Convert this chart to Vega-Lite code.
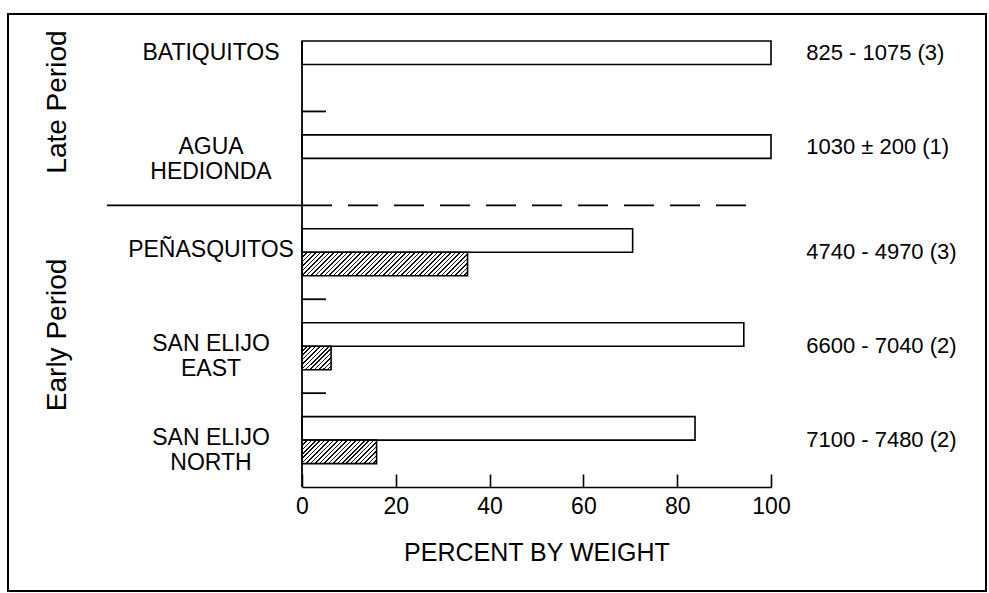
{
  "$schema": "https://vega.github.io/schema/vega-lite/v6.json",
  "width": 978,
  "height": 577,
  "autosize": "none",
  "padding": {"left": 8, "top": 14, "right": 3, "bottom": 2},
  "background": "#ffffff",
  "config": {"view": {"stroke": "#000", "strokeWidth": 2}, "font": "Liberation Sans"},
  "datasets": {
    "bars": [
      {"site": "BATIQUITOS", "type": "open", "value": 100},
      {"site": "AGUA HEDIONDA", "type": "open", "value": 100},
      {"site": "PEÑASQUITOS", "type": "open", "value": 70.5},
      {"site": "PEÑASQUITOS", "type": "hatched", "value": 35.3},
      {"site": "SAN ELIJO EAST", "type": "open", "value": 94.2},
      {"site": "SAN ELIJO EAST", "type": "hatched", "value": 6.2},
      {"site": "SAN ELIJO NORTH", "type": "open", "value": 83.8},
      {"site": "SAN ELIJO NORTH", "type": "hatched", "value": 15.9}
    ],
    "sites": [
      {"site": "BATIQUITOS", "label": "BATIQUITOS", "dates": "825 - 1075 (3)", "period": "Late"},
      {"site": "AGUA HEDIONDA", "label": "AGUA\nHEDIONDA", "dates": "1030 ± 200 (1)", "period": "Late"},
      {"site": "PEÑASQUITOS", "label": "PEÑASQUITOS", "dates": "4740 - 4970 (3)", "period": "Early"},
      {"site": "SAN ELIJO EAST", "label": "SAN ELIJO\nEAST", "dates": "6600 - 7040 (2)", "period": "Early"},
      {"site": "SAN ELIJO NORTH", "label": "SAN ELIJO\nNORTH", "dates": "7100 - 7480 (2)", "period": "Early"}
    ],
    "one": [{}]
  },
  "layer": [
    {
      "data": {"name": "bars"},
      "mark": {"type": "bar", "stroke": "#000", "strokeWidth": 1.6},
      "encoding": {
        "y": {"field": "site", "type": "nominal", "axis": null,
          "scale": {"domain": ["BATIQUITOS", "AGUA HEDIONDA", "PEÑASQUITOS", "SAN ELIJO EAST", "SAN ELIJO NORTH"], "range": [27, 449.6], "paddingInner": 0.5, "paddingOuter": 0}},
        "yOffset": {"field": "type", "type": "nominal", "scale": {"domain": ["open", "hatched"], "paddingInner": 0, "paddingOuter": 0}},
        "x": {"field": "value", "type": "quantitative", "title": "PERCENT BY WEIGHT",
          "scale": {"domain": [0, 100], "range": [294, 763], "nice": false, "zero": false},
          "axis": {"orient": "bottom", "offset": -104, "title": "PERCENT BY WEIGHT", "values": [0, 20, 40, 60, 80, 100], "grid": false,
            "tickSize": -13, "tickWidth": 1.6, "tickColor": "#000", "domainColor": "#000", "domainWidth": 1.6,
            "labelPadding": 21, "labelFont": "Liberation Sans", "labelFontSize": 23, "labelColor": "#000", "labelFlush": false,
            "titleFont": "Liberation Sans", "titleFontSize": 25, "titleFontWeight": "normal", "titleColor": "#000", "titlePadding": 22}},
        "fill": {
          "condition": [
            {"test": "datum.type === 'hatched' && datum.site === 'PEÑASQUITOS'", "value": {"gradient": "linear", "x1": 0, "y1": 0, "x2": 1.1194, "y2": 0.1589, "stops": [
              {"offset":0,"color":"#111"},{"offset":0.00833,"color":"#111"},{"offset":0.00833,"color":"#fff"},{"offset":0.02381,"color":"#fff"},
              {"offset":0.02381,"color":"#111"},{"offset":0.03214,"color":"#111"},{"offset":0.03214,"color":"#fff"},{"offset":0.04762,"color":"#fff"},
              {"offset":0.04762,"color":"#111"},{"offset":0.05595,"color":"#111"},{"offset":0.05595,"color":"#fff"},{"offset":0.07143,"color":"#fff"},
              {"offset":0.07143,"color":"#111"},{"offset":0.07976,"color":"#111"},{"offset":0.07976,"color":"#fff"},{"offset":0.09524,"color":"#fff"},
              {"offset":0.09524,"color":"#111"},{"offset":0.10357,"color":"#111"},{"offset":0.10357,"color":"#fff"},{"offset":0.11905,"color":"#fff"},
              {"offset":0.11905,"color":"#111"},{"offset":0.12738,"color":"#111"},{"offset":0.12738,"color":"#fff"},{"offset":0.14286,"color":"#fff"},
              {"offset":0.14286,"color":"#111"},{"offset":0.15119,"color":"#111"},{"offset":0.15119,"color":"#fff"},{"offset":0.16667,"color":"#fff"},
              {"offset":0.16667,"color":"#111"},{"offset":0.175,"color":"#111"},{"offset":0.175,"color":"#fff"},{"offset":0.19048,"color":"#fff"},
              {"offset":0.19048,"color":"#111"},{"offset":0.19881,"color":"#111"},{"offset":0.19881,"color":"#fff"},{"offset":0.21429,"color":"#fff"},
              {"offset":0.21429,"color":"#111"},{"offset":0.22262,"color":"#111"},{"offset":0.22262,"color":"#fff"},{"offset":0.2381,"color":"#fff"},
              {"offset":0.2381,"color":"#111"},{"offset":0.24643,"color":"#111"},{"offset":0.24643,"color":"#fff"},{"offset":0.2619,"color":"#fff"},
              {"offset":0.2619,"color":"#111"},{"offset":0.27024,"color":"#111"},{"offset":0.27024,"color":"#fff"},{"offset":0.28571,"color":"#fff"},
              {"offset":0.28571,"color":"#111"},{"offset":0.29405,"color":"#111"},{"offset":0.29405,"color":"#fff"},{"offset":0.30952,"color":"#fff"},
              {"offset":0.30952,"color":"#111"},{"offset":0.31786,"color":"#111"},{"offset":0.31786,"color":"#fff"},{"offset":0.33333,"color":"#fff"},
              {"offset":0.33333,"color":"#111"},{"offset":0.34167,"color":"#111"},{"offset":0.34167,"color":"#fff"},{"offset":0.35714,"color":"#fff"},
              {"offset":0.35714,"color":"#111"},{"offset":0.36548,"color":"#111"},{"offset":0.36548,"color":"#fff"},{"offset":0.38095,"color":"#fff"},
              {"offset":0.38095,"color":"#111"},{"offset":0.38929,"color":"#111"},{"offset":0.38929,"color":"#fff"},{"offset":0.40476,"color":"#fff"},
              {"offset":0.40476,"color":"#111"},{"offset":0.4131,"color":"#111"},{"offset":0.4131,"color":"#fff"},{"offset":0.42857,"color":"#fff"},
              {"offset":0.42857,"color":"#111"},{"offset":0.4369,"color":"#111"},{"offset":0.4369,"color":"#fff"},{"offset":0.45238,"color":"#fff"},
              {"offset":0.45238,"color":"#111"},{"offset":0.46071,"color":"#111"},{"offset":0.46071,"color":"#fff"},{"offset":0.47619,"color":"#fff"},
              {"offset":0.47619,"color":"#111"},{"offset":0.48452,"color":"#111"},{"offset":0.48452,"color":"#fff"},{"offset":0.5,"color":"#fff"},
              {"offset":0.5,"color":"#111"},{"offset":0.50833,"color":"#111"},{"offset":0.50833,"color":"#fff"},{"offset":0.52381,"color":"#fff"},
              {"offset":0.52381,"color":"#111"},{"offset":0.53214,"color":"#111"},{"offset":0.53214,"color":"#fff"},{"offset":0.54762,"color":"#fff"},
              {"offset":0.54762,"color":"#111"},{"offset":0.55595,"color":"#111"},{"offset":0.55595,"color":"#fff"},{"offset":0.57143,"color":"#fff"},
              {"offset":0.57143,"color":"#111"},{"offset":0.57976,"color":"#111"},{"offset":0.57976,"color":"#fff"},{"offset":0.59524,"color":"#fff"},
              {"offset":0.59524,"color":"#111"},{"offset":0.60357,"color":"#111"},{"offset":0.60357,"color":"#fff"},{"offset":0.61905,"color":"#fff"},
              {"offset":0.61905,"color":"#111"},{"offset":0.62738,"color":"#111"},{"offset":0.62738,"color":"#fff"},{"offset":0.64286,"color":"#fff"},
              {"offset":0.64286,"color":"#111"},{"offset":0.65119,"color":"#111"},{"offset":0.65119,"color":"#fff"},{"offset":0.66667,"color":"#fff"},
              {"offset":0.66667,"color":"#111"},{"offset":0.675,"color":"#111"},{"offset":0.675,"color":"#fff"},{"offset":0.69048,"color":"#fff"},
              {"offset":0.69048,"color":"#111"},{"offset":0.69881,"color":"#111"},{"offset":0.69881,"color":"#fff"},{"offset":0.71429,"color":"#fff"},
              {"offset":0.71429,"color":"#111"},{"offset":0.72262,"color":"#111"},{"offset":0.72262,"color":"#fff"},{"offset":0.7381,"color":"#fff"},
              {"offset":0.7381,"color":"#111"},{"offset":0.74643,"color":"#111"},{"offset":0.74643,"color":"#fff"},{"offset":0.7619,"color":"#fff"},
              {"offset":0.7619,"color":"#111"},{"offset":0.77024,"color":"#111"},{"offset":0.77024,"color":"#fff"},{"offset":0.78571,"color":"#fff"},
              {"offset":0.78571,"color":"#111"},{"offset":0.79405,"color":"#111"},{"offset":0.79405,"color":"#fff"},{"offset":0.80952,"color":"#fff"},
              {"offset":0.80952,"color":"#111"},{"offset":0.81786,"color":"#111"},{"offset":0.81786,"color":"#fff"},{"offset":0.83333,"color":"#fff"},
              {"offset":0.83333,"color":"#111"},{"offset":0.84167,"color":"#111"},{"offset":0.84167,"color":"#fff"},{"offset":0.85714,"color":"#fff"},
              {"offset":0.85714,"color":"#111"},{"offset":0.86548,"color":"#111"},{"offset":0.86548,"color":"#fff"},{"offset":0.88095,"color":"#fff"},
              {"offset":0.88095,"color":"#111"},{"offset":0.88929,"color":"#111"},{"offset":0.88929,"color":"#fff"},{"offset":0.90476,"color":"#fff"},
              {"offset":0.90476,"color":"#111"},{"offset":0.9131,"color":"#111"},{"offset":0.9131,"color":"#fff"},{"offset":0.92857,"color":"#fff"},
              {"offset":0.92857,"color":"#111"},{"offset":0.9369,"color":"#111"},{"offset":0.9369,"color":"#fff"},{"offset":0.95238,"color":"#fff"},
              {"offset":0.95238,"color":"#111"},{"offset":0.96071,"color":"#111"},{"offset":0.96071,"color":"#fff"},{"offset":0.97619,"color":"#fff"},
              {"offset":0.97619,"color":"#111"},{"offset":0.98452,"color":"#111"},{"offset":0.98452,"color":"#fff"},{"offset":1,"color":"#fff"}
            ]}},
            {"test": "datum.type === 'hatched' && datum.site === 'SAN ELIJO EAST'", "value": {"gradient": "linear", "x1": 0, "y1": 0, "x2": 1.0928, "y2": 0.8855, "stops": [
              {"offset":0,"color":"#111"},{"offset":0.02917,"color":"#111"},{"offset":0.02917,"color":"#fff"},{"offset":0.08333,"color":"#fff"},
              {"offset":0.08333,"color":"#111"},{"offset":0.1125,"color":"#111"},{"offset":0.1125,"color":"#fff"},{"offset":0.16667,"color":"#fff"},
              {"offset":0.16667,"color":"#111"},{"offset":0.19583,"color":"#111"},{"offset":0.19583,"color":"#fff"},{"offset":0.25,"color":"#fff"},
              {"offset":0.25,"color":"#111"},{"offset":0.27917,"color":"#111"},{"offset":0.27917,"color":"#fff"},{"offset":0.33333,"color":"#fff"},
              {"offset":0.33333,"color":"#111"},{"offset":0.3625,"color":"#111"},{"offset":0.3625,"color":"#fff"},{"offset":0.41667,"color":"#fff"},
              {"offset":0.41667,"color":"#111"},{"offset":0.44583,"color":"#111"},{"offset":0.44583,"color":"#fff"},{"offset":0.5,"color":"#fff"},
              {"offset":0.5,"color":"#111"},{"offset":0.52917,"color":"#111"},{"offset":0.52917,"color":"#fff"},{"offset":0.58333,"color":"#fff"},
              {"offset":0.58333,"color":"#111"},{"offset":0.6125,"color":"#111"},{"offset":0.6125,"color":"#fff"},{"offset":0.66667,"color":"#fff"},
              {"offset":0.66667,"color":"#111"},{"offset":0.69583,"color":"#111"},{"offset":0.69583,"color":"#fff"},{"offset":0.75,"color":"#fff"},
              {"offset":0.75,"color":"#111"},{"offset":0.77917,"color":"#111"},{"offset":0.77917,"color":"#fff"},{"offset":0.83333,"color":"#fff"},
              {"offset":0.83333,"color":"#111"},{"offset":0.8625,"color":"#111"},{"offset":0.8625,"color":"#fff"},{"offset":0.91667,"color":"#fff"},
              {"offset":0.91667,"color":"#111"},{"offset":0.94583,"color":"#111"},{"offset":0.94583,"color":"#fff"},{"offset":1,"color":"#fff"}
            ]}},
            {"test": "datum.type === 'hatched' && datum.site === 'SAN ELIJO NORTH'", "value": {"gradient": "linear", "x1": 0, "y1": 0, "x2": 1.1963, "y2": 0.3768, "stops": [
              {"offset":0,"color":"#111"},{"offset":0.01591,"color":"#111"},{"offset":0.01591,"color":"#fff"},{"offset":0.04545,"color":"#fff"},
              {"offset":0.04545,"color":"#111"},{"offset":0.06136,"color":"#111"},{"offset":0.06136,"color":"#fff"},{"offset":0.09091,"color":"#fff"},
              {"offset":0.09091,"color":"#111"},{"offset":0.10682,"color":"#111"},{"offset":0.10682,"color":"#fff"},{"offset":0.13636,"color":"#fff"},
              {"offset":0.13636,"color":"#111"},{"offset":0.15227,"color":"#111"},{"offset":0.15227,"color":"#fff"},{"offset":0.18182,"color":"#fff"},
              {"offset":0.18182,"color":"#111"},{"offset":0.19773,"color":"#111"},{"offset":0.19773,"color":"#fff"},{"offset":0.22727,"color":"#fff"},
              {"offset":0.22727,"color":"#111"},{"offset":0.24318,"color":"#111"},{"offset":0.24318,"color":"#fff"},{"offset":0.27273,"color":"#fff"},
              {"offset":0.27273,"color":"#111"},{"offset":0.28864,"color":"#111"},{"offset":0.28864,"color":"#fff"},{"offset":0.31818,"color":"#fff"},
              {"offset":0.31818,"color":"#111"},{"offset":0.33409,"color":"#111"},{"offset":0.33409,"color":"#fff"},{"offset":0.36364,"color":"#fff"},
              {"offset":0.36364,"color":"#111"},{"offset":0.37955,"color":"#111"},{"offset":0.37955,"color":"#fff"},{"offset":0.40909,"color":"#fff"},
              {"offset":0.40909,"color":"#111"},{"offset":0.425,"color":"#111"},{"offset":0.425,"color":"#fff"},{"offset":0.45455,"color":"#fff"},
              {"offset":0.45455,"color":"#111"},{"offset":0.47045,"color":"#111"},{"offset":0.47045,"color":"#fff"},{"offset":0.5,"color":"#fff"},
              {"offset":0.5,"color":"#111"},{"offset":0.51591,"color":"#111"},{"offset":0.51591,"color":"#fff"},{"offset":0.54545,"color":"#fff"},
              {"offset":0.54545,"color":"#111"},{"offset":0.56136,"color":"#111"},{"offset":0.56136,"color":"#fff"},{"offset":0.59091,"color":"#fff"},
              {"offset":0.59091,"color":"#111"},{"offset":0.60682,"color":"#111"},{"offset":0.60682,"color":"#fff"},{"offset":0.63636,"color":"#fff"},
              {"offset":0.63636,"color":"#111"},{"offset":0.65227,"color":"#111"},{"offset":0.65227,"color":"#fff"},{"offset":0.68182,"color":"#fff"},
              {"offset":0.68182,"color":"#111"},{"offset":0.69773,"color":"#111"},{"offset":0.69773,"color":"#fff"},{"offset":0.72727,"color":"#fff"},
              {"offset":0.72727,"color":"#111"},{"offset":0.74318,"color":"#111"},{"offset":0.74318,"color":"#fff"},{"offset":0.77273,"color":"#fff"},
              {"offset":0.77273,"color":"#111"},{"offset":0.78864,"color":"#111"},{"offset":0.78864,"color":"#fff"},{"offset":0.81818,"color":"#fff"},
              {"offset":0.81818,"color":"#111"},{"offset":0.83409,"color":"#111"},{"offset":0.83409,"color":"#fff"},{"offset":0.86364,"color":"#fff"},
              {"offset":0.86364,"color":"#111"},{"offset":0.87955,"color":"#111"},{"offset":0.87955,"color":"#fff"},{"offset":0.90909,"color":"#fff"},
              {"offset":0.90909,"color":"#111"},{"offset":0.925,"color":"#111"},{"offset":0.925,"color":"#fff"},{"offset":0.95455,"color":"#fff"},
              {"offset":0.95455,"color":"#111"},{"offset":0.97045,"color":"#111"},{"offset":0.97045,"color":"#fff"},{"offset":1,"color":"#fff"}
            ]}}
          ],
          "value": "#ffffff"
        }
      }
    },
    {
      "data": {"name": "one"},
      "mark": {"type": "rule", "stroke": "#000", "strokeWidth": 1.8},
      "encoding": {
        "x": {"datum": 0, "title": "PERCENT BY WEIGHT"},
        "y": {"datum": "BATIQUITOS", "type": "nominal", "bandPosition": 0, "axis": null},
        "y2": {"datum": "SAN ELIJO NORTH", "bandPosition": 1.5}
      }
    },
    {
      "data": {"name": "sites"},
      "transform": [{"filter": {"field": "site", "oneOf": ["BATIQUITOS", "PEÑASQUITOS", "SAN ELIJO EAST"]}}],
      "mark": {"type": "rule", "stroke": "#000", "strokeWidth": 1.8},
      "encoding": {
        "y": {"field": "site", "type": "nominal", "bandPosition": 1.5, "axis": null},
        "x": {"datum": 0, "title": "PERCENT BY WEIGHT"},
        "x2": {"datum": 5.1}
      }
    },
    {
      "data": {"name": "one"},
      "mark": {"type": "rule", "stroke": "#000", "strokeWidth": 1.8},
      "encoding": {
        "y": {"datum": "AGUA HEDIONDA", "type": "nominal", "bandPosition": 1.5, "axis": null},
        "x": {"datum": -41.6, "title": "PERCENT BY WEIGHT"},
        "x2": {"datum": 0}
      }
    },
    {
      "data": {"name": "one"},
      "mark": {"type": "rule", "stroke": "#000", "strokeWidth": 1.8, "strokeDash": [30, 16]},
      "encoding": {
        "y": {"datum": "AGUA HEDIONDA", "type": "nominal", "bandPosition": 1.5, "axis": null},
        "x": {"datum": 0, "title": "PERCENT BY WEIGHT"},
        "x2": {"datum": 95.9}
      }
    },
    {
      "data": {"name": "sites"},
      "transform": [{"filter": "datum.period === 'Late'"}],
      "mark": {"type": "text", "font": "Liberation Sans", "fontSize": 23, "align": "center", "baseline": "middle", "lineBreak": "\n", "lineHeight": 25, "color": "#000"},
      "encoding": {
        "y": {"field": "site", "type": "nominal", "bandPosition": 0.25, "axis": null},
        "x": {"datum": -19.4, "title": "PERCENT BY WEIGHT"},
        "text": {"field": "label"}
      }
    },
    {
      "data": {"name": "sites"},
      "transform": [{"filter": "datum.period === 'Early'"}],
      "mark": {"type": "text", "font": "Liberation Sans", "fontSize": 23, "align": "center", "baseline": "middle", "lineBreak": "\n", "lineHeight": 25, "color": "#000"},
      "encoding": {
        "y": {"field": "site", "type": "nominal", "bandPosition": 0.45, "axis": null},
        "x": {"datum": -19.4, "title": "PERCENT BY WEIGHT"},
        "text": {"field": "label"}
      }
    },
    {
      "data": {"name": "sites"},
      "transform": [{"filter": "datum.period === 'Late'"}],
      "mark": {"type": "text", "font": "Liberation Sans", "fontSize": 22, "align": "left", "baseline": "middle", "color": "#000"},
      "encoding": {
        "y": {"field": "site", "type": "nominal", "bandPosition": 0.25, "axis": null},
        "x": {"datum": 107.5, "title": "PERCENT BY WEIGHT"},
        "text": {"field": "dates"}
      }
    },
    {
      "data": {"name": "sites"},
      "transform": [{"filter": "datum.period === 'Early'"}],
      "mark": {"type": "text", "font": "Liberation Sans", "fontSize": 22, "align": "left", "baseline": "middle", "color": "#000"},
      "encoding": {
        "y": {"field": "site", "type": "nominal", "bandPosition": 0.5, "axis": null},
        "x": {"datum": 107.5, "title": "PERCENT BY WEIGHT"},
        "text": {"field": "dates"}
      }
    },
    {
      "data": {"name": "one"},
      "mark": {"type": "text", "font": "Liberation Sans", "fontSize": 28, "align": "center", "baseline": "middle", "angle": 270, "color": "#000"},
      "encoding": {
        "y": {"datum": "BATIQUITOS", "type": "nominal", "bandPosition": 1.3, "axis": null},
        "x": {"datum": -52, "title": "PERCENT BY WEIGHT"},
        "text": {"value": "Late Period"}
      }
    },
    {
      "data": {"name": "one"},
      "mark": {"type": "text", "font": "Liberation Sans", "fontSize": 28, "align": "center", "baseline": "middle", "angle": 270, "color": "#000"},
      "encoding": {
        "y": {"datum": "SAN ELIJO EAST", "type": "nominal", "bandPosition": 0.26, "axis": null},
        "x": {"datum": -52, "title": "PERCENT BY WEIGHT"},
        "text": {"value": "Early Period"}
      }
    }
  ]
}
